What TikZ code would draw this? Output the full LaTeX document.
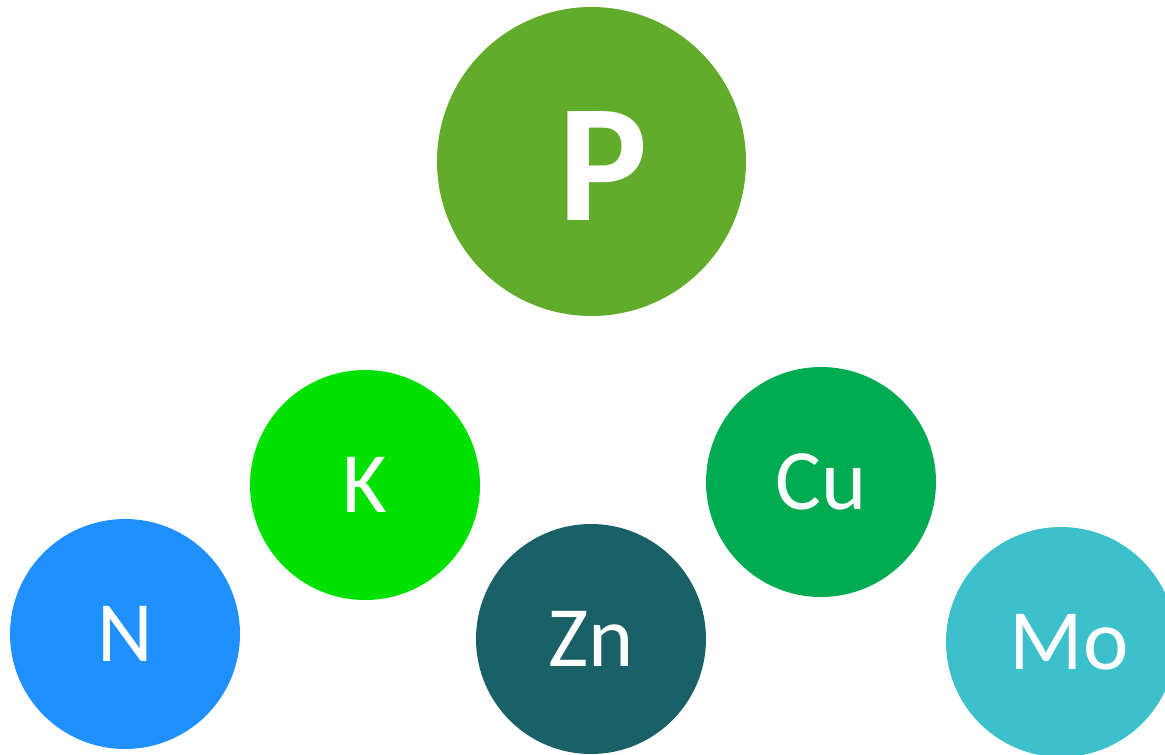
\documentclass[tikz,border=0pt]{standalone}
\usepackage{fontspec}
\setmainfont{Carlito}
\definecolor{cP}{HTML}{62AC2C}
\definecolor{cK}{HTML}{00E100}
\definecolor{cCu}{HTML}{00AB52}
\definecolor{cN}{HTML}{2190FF}
\definecolor{cZn}{HTML}{1A6167}
\definecolor{cMo}{HTML}{3CC0CB}
\tikzset{
  ball/.style={circle, minimum size=230pt, inner sep=0pt, text=white, font=\fontsize{86}{86}\selectfont},
  bigball/.style={ball, minimum size=309pt, font=\fontsize{168}{168}\selectfont\bfseries},
}
\begin{document}
\begin{tikzpicture}[x=1pt,y=-1pt]
\useasboundingbox (0,0) rectangle (1165,755);
\clip (0,0) rectangle (1165,755);
\node[bigball, fill=cP] (P) at (591.5,161.5) {};
\node[text=white, font=\fontsize{168}{168}\selectfont\bfseries, inner sep=0pt] (Pt) at (603,166) {P};
\node[ball, fill=cK] (K) at (365,485) {K};
\node[ball, fill=cCu] (Cu) at (821,482) {Cu};
\node[ball, fill=cN] (N) at (125,634) {N};
\node[ball, fill=cZn] (Zn) at (591,639) {Zn};
\node[ball, fill=cMo] (Mo) at (1061,642) {};
\node[text=white, font=\fontsize{86}{86}\selectfont, inner sep=0pt] (Mot) at (1069,642) {Mo};
\end{tikzpicture}
\end{document}
